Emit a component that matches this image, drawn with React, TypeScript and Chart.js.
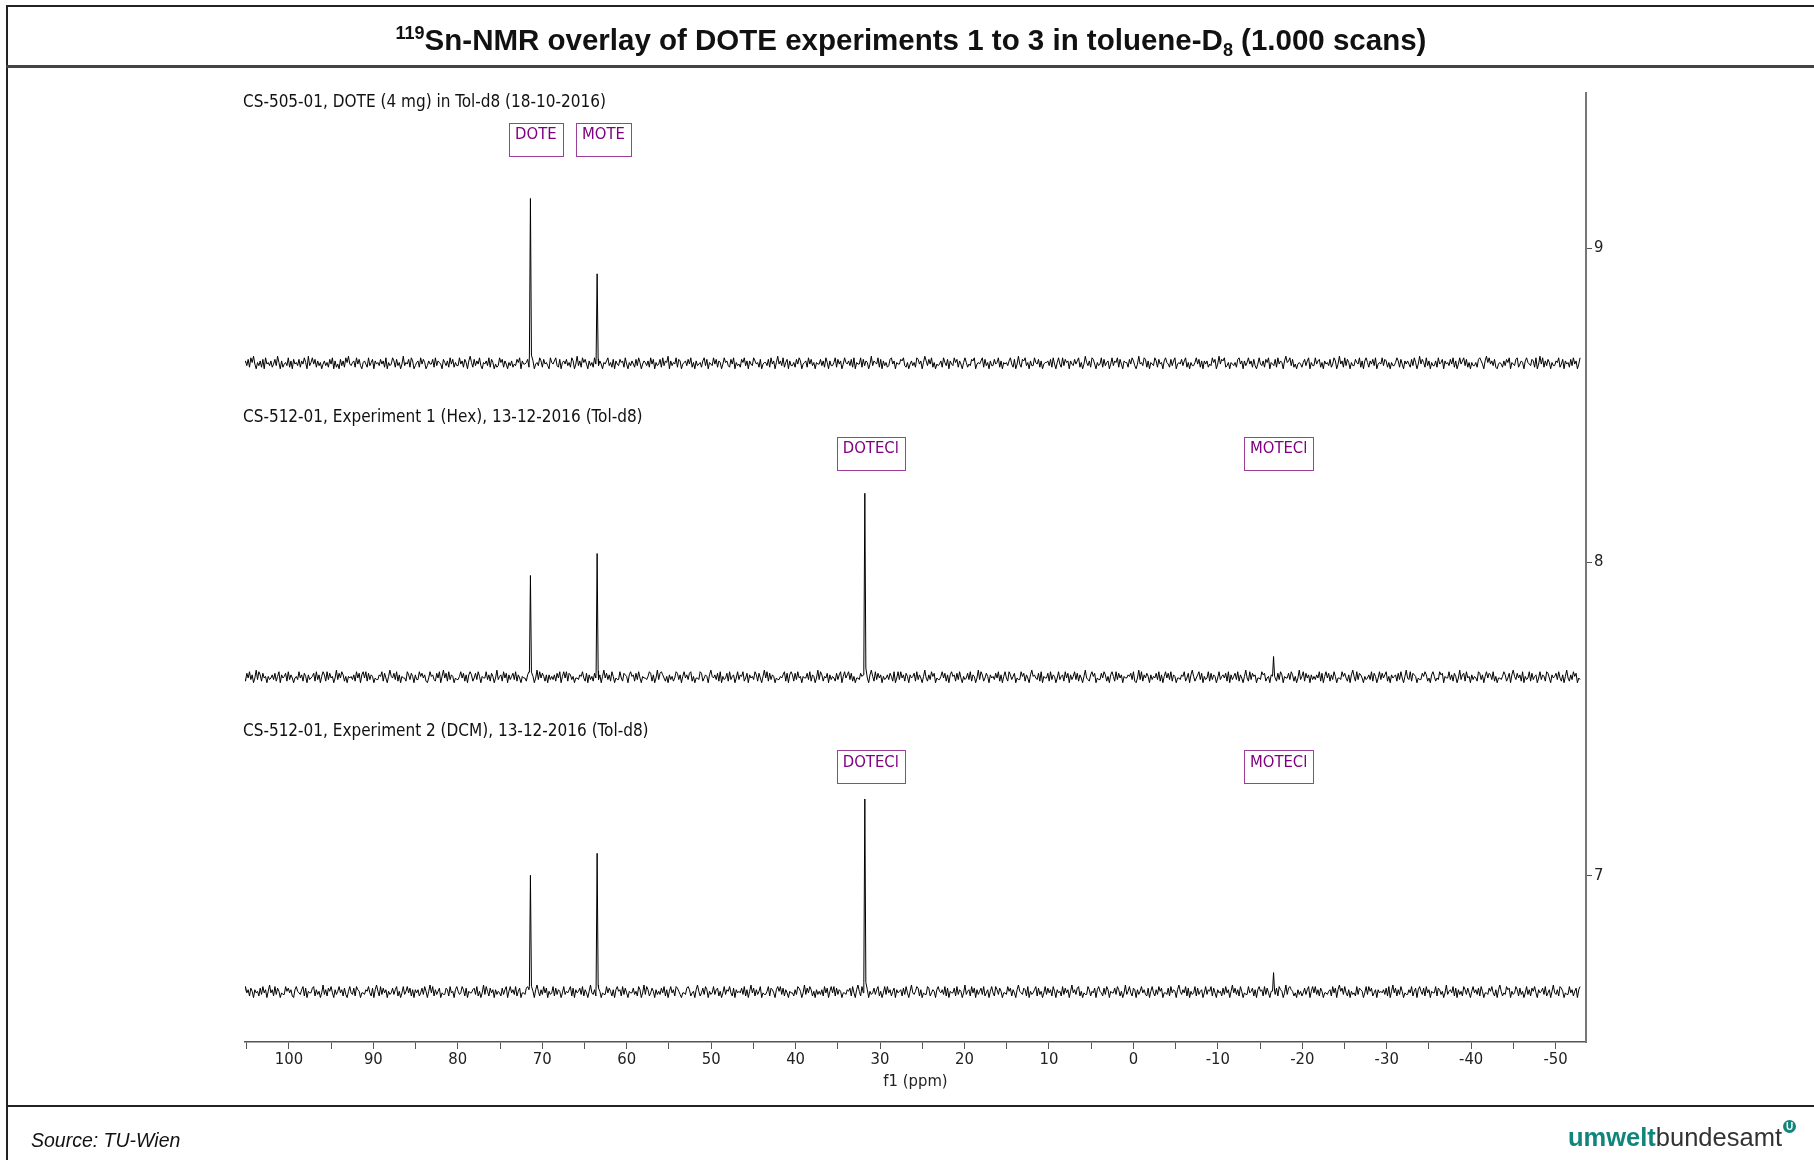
import React, { useEffect, useRef } from "react";
import { Chart, registerables } from "chart.js";

Chart.register(...registerables);

// chemical shifts (ppm) of the signals: DOTE, MOTE, DOTECl, MOTECl
const shifts = [71.4, 63.5, 31.8, -16.6];
// peak heights above baseline (axis units) for each experiment
const trace1Heights = [0.525, 0.285, 0, 0];
const trace2Heights = [0.324, 0.394, 0.586, 0.066];
const trace3Heights = [0.372, 0.442, 0.615, 0.062];
// baseline level of each stacked spectrum
const baselines = [8.633, 7.633, 6.63];
const traceLabels = [
  "CS-505-01, DOTE (4 mg) in Tol-d8 (18-10-2016)",
  "CS-512-01, Experiment 1 (Hex), 13-12-2016 (Tol-d8)",
  "CS-512-01, Experiment 2 (DCM), 13-12-2016 (Tol-d8)",
];
const labelLevels = [9.463, 8.461, 7.46];
const boxLevels = [9.347, 8.347, 7.349];
const boxLabels = [
  ["DOTE", "MOTE"],
  ["DOTECl", "MOTECl"],
  ["DOTECl", "MOTECl"],
];
const boxShifts = [
  [70.76, 62.76],
  [31.1, -17.2],
  [31.1, -17.2],
];
const yTickValues = [7, 8, 9];
const xRange = [-53.6, 105.2];
const yRange = [6.471, 9.494];
const traceSpan = [105.3, -52.9];

// baseline noise, read as levels 0..9 across each spectrum
const noise1 = `4637285941 5362718453 6247395162 4538261745 3726485193 5847263514 6352748162 4173628594 3562847315 6428357164
5374628153 4862735149 3547286135 6284751364 4728365417 5362847253 3846275169 5273648315 4638275142 3857264153
6243758164 4572836145 3862745318 5468327156 4735286149 3628574163 5284736415 4683527164 3756284153 6427385146
5362847153 4728365916 3548276145 6374825163 4526837154 3847265148 5632748153 4275836164 3864527145 5372846159
4638257163 3527486145 6284735154 4736285163 3582746148 5463728154 4827365149 3654827163 5237846154 4768325146
3528746159 6374825143 4628537164 3857264158 5243768145 4682735163 3745826154 5368427149 4276835163 3854726145
5637284158 4283756164 3746825149 5362874153 4827356148 3658274165 5274863149 4538726154 3862745168 5427368145
4736825153 3584726164 6243857149 4768235154 3527846163 5846273148 4362758154 3728465169 5683724145 4257368153
3846725164 5372486149 4628375153 3754826168 5264738145 4837625153 3586274164 6427385149 4752836153 3628457164
5374826148 4683725153 3527864169 5846372145 4263758154 3782465168 5437628149 4826375153 3658247164 5273846148`;
const noise2 = `5274836149 3862745153 4637258164 5728364145 3846275163 4572836158 6283745149 3748625154 5362847168 4827365143
3658274159 5473826154 4286375163 3857462148 5632748159 4728365143 3584726168 6247385154 4836275149 3562847163
5738264154 4268375149 3847526163 5362748158 4827635144 3658427163 5274836159 4736285143 3842765168 5627384154
4358726149 3786425163 5248736158 4637825144 3872465169 5463728153 4728356148 3658247164 5386274159 4827365143
3546827168 6273845154 4738265149 3862547163 5427368158 4683725144 3756284169 5283746153 4637528148 3846275164
5728364159 4263857143 3584726168 5627384153 4738265149 3862475164 5374826158 4286357143 3857264169 5643728154
4728365148 3562847163 5837264159 4326857143 3748625168 5283746154 4657382149 3826475163 5473826158 4738265144
3658247169 5246837153 4827365148 3564728163 5738264159 4283756144 3867245168 5427386154 4738625149 3582746163
5364827158 4726385144 3857426169 5283764153 4638275148 3746825164 5627384159 4382765143 3758624168 5243867154
4836275149 3672845163 5428736158 4763825144 3586247169 5374628153 4827356148 3652874164 5738426159 4263857143`;
const noise3 = `3846275164 5273846159 4628375143 3857462168 5436827154 4782635149 3627584163 5846273158 4372865144 3658427169
5283746153 4736825148 3584726164 6247385159 4826357143 3762845168 5348627154 4673825149 3852746163 5427368158
4638257144 3786425169 5263847153 4827365148 3546827164 5738264159 4362875143 3847526168 5628374154 4735286149
3862475163 5374826158 4628753144 3786245169 5247386153 4836725148 3658427164 5473826159 4726358143 3582764168
5837264154 4263875149 3748625163 5362847158 4827365144 3657284169 5284736153 4736825148 3846257164 5627384159
4358726143 3872465168 5463827154 4728365149 3562847163 5738246158 4286375144 3857264169 5437628153 4682735148
3746285164 5283746159 4637825143 3862547168 5427386154 4738625149 3584276163 5846327158 4263857144 3728465169
5364827153 4827356148 3658274164 5273846159 4736285143 3845726168 5628374154 4372865149 3786524163 5247368158
4836275144 3562847169 5738426153 4283765148 3857246164 5463728159 4726385143 3648257168 5372846154 4827635149
3564827163 5286374158 4637285144 3758426169 5243867153 4862735148 3627584164 5738246159 4362875143 3846257168`;

const NOISE_SCALE = 0.005;
const FONT_FAMILY = '"DejaVu Sans Condensed", "DejaVu Sans", sans-serif';
const FONT_SIZE = 16.5;
const LABEL_FONT_SIZE = 17;

function buildTrace(noise: string, base: number, heights: number[]) {
  const digits = noise.replace(/\s+/g, "");
  const n = digits.length;
  const step = (traceSpan[0] - traceSpan[1]) / (n - 1);
  const pts: { x: number; y: number }[] = [];
  for (let i = 0; i < n; i++) {
    const xv = traceSpan[0] - i * step;
    if (shifts.some((p, k) => heights[k] > 0 && Math.abs(xv - p) < 0.15)) continue;
    pts.push({ x: xv, y: base + (Number(digits[i]) - 4.5) * NOISE_SCALE });
  }
  shifts.forEach((p, k) => {
    const h = heights[k];
    if (h <= 0) return;
    pts.push({ x: p + 0.12, y: base + h * 0.05 });
    pts.push({ x: p, y: base + h });
    pts.push({ x: p - 0.12, y: base + h * 0.05 });
  });
  pts.sort((a, b) => b.x - a.x);
  return pts;
}

const annotationPlugin = {
  id: "nmrAnnotations",
  afterDatasetsDraw(chart: any) {
    const { ctx, chartArea } = chart;
    const xs = chart.scales.x;
    const ys = chart.scales.y;
    ctx.save();
    ctx.textBaseline = "middle";
    ctx.fillStyle = "#111";
    ctx.textAlign = "left";
    ctx.font = `${LABEL_FONT_SIZE}px ${FONT_FAMILY}`;
    traceLabels.forEach((t, i) => {
      ctx.fillText(t, chartArea.left - 2, ys.getPixelForValue(labelLevels[i]));
    });
    ctx.font = `${FONT_SIZE}px ${FONT_FAMILY}`;
    ctx.textAlign = "center";
    boxLabels.forEach((labels, i) => {
      const cy = ys.getPixelForValue(boxLevels[i]);
      labels.forEach((lab, j) => {
        const cx = xs.getPixelForValue(boxShifts[i][j]);
        const w = Math.round(ctx.measureText(lab).width + 12);
        const h = 33;
        ctx.strokeStyle = "#9b3f9b";
        ctx.lineWidth = 1;
        ctx.strokeRect(Math.round(cx - w / 2) + 0.5, Math.round(cy - h / 2) + 0.5, w, h);
        ctx.fillStyle = "#800080";
        ctx.fillText(lab, cx, cy - 4);
      });
    });
    ctx.restore();
  },
};

export default function App() {
  const canvasRef = useRef<HTMLCanvasElement | null>(null);

  useEffect(() => {
    if (!canvasRef.current) return;
    const font = { family: FONT_FAMILY, size: FONT_SIZE };
    const mk = (data: any) => ({
      data,
      borderColor: "#000",
      borderWidth: 1,
      pointRadius: 0,
      tension: 0,
      fill: false,
    });
    const chart = new Chart(canvasRef.current, {
      type: "line",
      data: {
        datasets: [
          mk(buildTrace(noise1, baselines[0], trace1Heights)),
          mk(buildTrace(noise2, baselines[1], trace2Heights)),
          mk(buildTrace(noise3, baselines[2], trace3Heights)),
        ],
      },
      options: {
        responsive: false,
        animation: false,
        devicePixelRatio: 1,
        layout: { padding: { top: 93, left: 245, right: 188, bottom: 68 } },
        plugins: {
          legend: { display: false },
          tooltip: { enabled: false },
          title: { display: false },
        },
        scales: {
          x: {
            type: "linear",
            reverse: true,
            min: xRange[0],
            max: xRange[1],
            position: "bottom",
            ticks: {
              stepSize: 5,
              includeBounds: false,
              autoSkip: false,
              maxRotation: 0,
              color: "#222",
              font,
              padding: 1,
              callback: (v: any) => (Number(v) % 10 === 0 ? String(v) : ""),
            },
            grid: {
              display: true,
              drawOnChartArea: false,
              drawTicks: true,
              tickLength: 7,
              color: "#555",
              lineWidth: 1,
            },
            border: { display: true, color: "#555", width: 1.5 },
            title: { display: true, text: "f1 (ppm)", color: "#222", font, padding: 0 },
            afterFit: (s: any) => {
              s.height = 50;
            },
          },
          y: {
            type: "linear",
            position: "right",
            min: yRange[0],
            max: yRange[1],
            afterBuildTicks: (s: any) => {
              s.ticks = yTickValues.map((v) => ({ value: v }));
            },
            ticks: {
              color: "#222",
              font,
              padding: 2,
              callback: (v: any) => String(v),
            },
            grid: { drawOnChartArea: false, drawTicks: true, tickLength: 6, color: "#555" },
            border: { display: true, color: "#777", width: 2 },
            afterFit: (s: any) => {
              s.width = 40;
            },
          },
        },
      } as any,
      plugins: [annotationPlugin],
    });
    return () => chart.destroy();
  }, []);

  const line = (style: React.CSSProperties) => (
    <div style={{ position: "absolute", background: "#222", ...style }} />
  );

  return (
    <div
      style={{
        position: "absolute",
        left: 0,
        top: 0,
        width: 1814,
        height: 1160,
        overflow: "hidden",
        background: "#fff",
      }}
    >
      <canvas
        ref={canvasRef}
        width={1814}
        height={1160}
        style={{ position: "absolute", left: 0, top: 0, width: 1814, height: 1160 }}
      />
      {line({ left: 6, top: 5, width: 1808, height: 2 })}
      {line({ left: 6, top: 5, width: 2, height: 1155 })}
      {line({ left: 6, top: 65, width: 1808, height: 3, background: "#444" })}
      {line({ left: 6, top: 1105, width: 1808, height: 2 })}
      <div
        style={{
          position: "absolute",
          left: 8,
          right: 0,
          top: 11,
          height: 57,
          display: "flex",
          alignItems: "center",
          justifyContent: "center",
          fontFamily: '"Liberation Sans", Arial, sans-serif',
          fontWeight: "bold",
          fontSize: 29.5,
          color: "#111",
          whiteSpace: "nowrap",
        }}
      >
        <span>
          <span style={{ fontSize: 18, position: "relative", top: -11 }}>119</span>
          Sn-NMR overlay of DOTE experiments 1 to 3 in toluene-D
          <span style={{ fontSize: 18, position: "relative", top: 6 }}>8</span> (1.000 scans)
        </span>
      </div>
      <div
        style={{
          position: "absolute",
          left: 31,
          top: 1129,
          fontFamily: '"Liberation Sans", Arial, sans-serif',
          fontStyle: "italic",
          fontSize: 19.5,
          color: "#111",
          whiteSpace: "nowrap",
        }}
      >
        Source: TU-Wien
      </div>
      <div
        style={{
          position: "absolute",
          right: 18,
          top: 1123,
          fontFamily: '"Liberation Sans", Arial, sans-serif',
          fontSize: 25.5,
          whiteSpace: "nowrap",
          display: "flex",
          alignItems: "flex-start",
        }}
      >
        <span style={{ color: "#10857b", fontWeight: "bold" }}>umwelt</span>
        <span style={{ color: "#333" }}>bundesamt</span>
        <span
          style={{
            display: "inline-block",
            width: 13,
            height: 13,
            borderRadius: 7,
            background: "#10857b",
            color: "#fff",
            fontSize: 10,
            fontWeight: "bold",
            lineHeight: "13px",
            textAlign: "center",
            marginLeft: 1,
            marginTop: -3,
          }}
        >
          U
        </span>
      </div>
    </div>
  );
}
